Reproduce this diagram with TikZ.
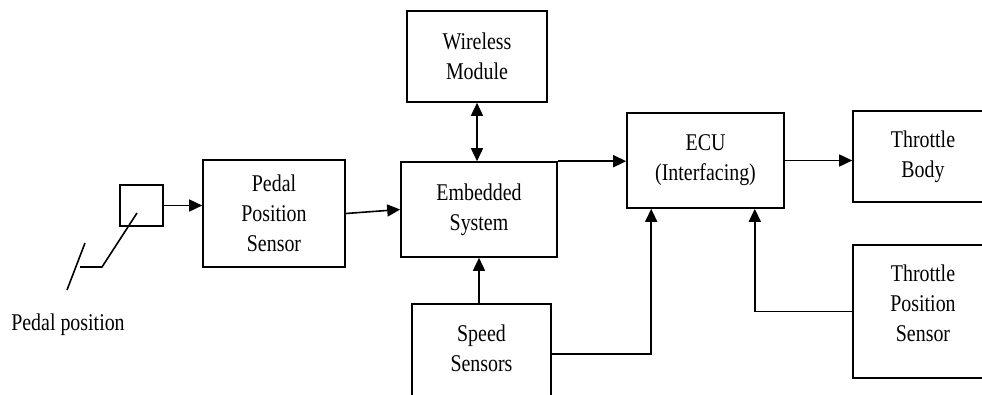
\documentclass[tikz,border=0pt]{standalone}
\usepackage{fontspec}
\setmainfont{Liberation Serif}[FakeStretch=0.83]
\usetikzlibrary{positioning,arrows.meta}

\tikzset{
  blk/.style={draw,line width=1.6pt,inner sep=0pt,align=center,
    font=\fontsize{24}{30}\selectfont},
  arr/.style={-{Triangle[length=13pt,width=12pt]},line width=1.6pt},
}

\begin{document}
\begin{tikzpicture}[x=1pt,y=-1pt]
\clip (0,0) rectangle (982,394);
\node[blk,minimum width=43,minimum height=41] (0) at (141.5,205.5) {};
\node[blk,minimum width=142,minimum height=107] (1) at (274,213.5) {Pedal\\Position\\Sensor};
\node[blk,minimum width=156,minimum height=95] (2) at (479,209.5) {Embedded\\System};
\node[blk,minimum width=140,minimum height=91] (3) at (477,56.5) {Wireless\\Module};
\node[blk,minimum width=139,minimum height=100,anchor=north] (4) at (481.5,303) {Speed\\Sensors\\[-18pt]};
\node[blk,minimum width=157,minimum height=95] (5) at (705.5,160.5) {ECU\\(Interfacing)};
\node[blk,minimum width=140,minimum height=91] (6) at (923,156.5) {Throttle\\Body};
\node[blk,minimum width=140,minimum height=133] (7) at (923,311.5) {Throttle\\Position\\Sensor\\[-14pt]};
\node[font=\fontsize{24}{30}\selectfont] (8) at (68,325) {Pedal position};
% pedal linkage
\draw[line width=1.6pt] (137,213) -- (102,267) -- (80,267);
\draw[line width=1.6pt] (85,243) -- (67,290);
\draw[arr] (0.east) -- (0.east -| 1.west);
\draw[arr] (1.east) -- (2.west);
\draw[arr,{Triangle[length=13pt,width=12pt]}-{Triangle[length=13pt,width=12pt]}] (3.south) -- (3.south |- 2.north);
\draw[arr] (2.south |- 4.north) -- (2.south);
\draw[arr] (2.north east) -- (2.north east -| 5.west);
\draw[arr] (5.east) -- (5.east -| 6.west);
\draw[arr] (4.east) -| ([xshift=25pt]5.south west);
\draw[arr] (7.west) -| ([xshift=-30pt]5.south east);
\end{tikzpicture}
\end{document}
